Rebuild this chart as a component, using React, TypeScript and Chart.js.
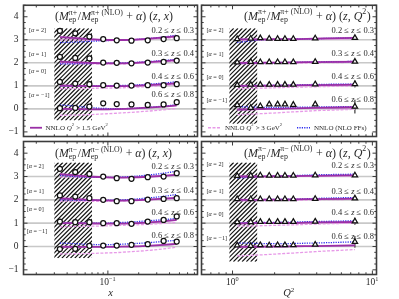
import React, { useEffect, useRef } from "react";
import { Chart, registerables } from "chart.js";

Chart.register(...registerables);

// ---------------- data ----------------
const xBins = [0.034, 0.048, 0.066, 0.09, 0.122, 0.17, 0.245, 0.35, 0.47];
const q2Bins = [1.08, 1.35, 1.58, 1.83, 2.1, 2.37, 2.72, 3.9, 7.5];
const alphas = [2, 1, 0, -1];
const zBinLabels = ["0.2 ≤ z ≤ 0.3", "0.3 ≤ z ≤ 0.4", "0.4 ≤ z ≤ 0.6", "0.6 ≤ z ≤ 0.8"];
const yTickValues = [-1, 0, 1, 2, 3, 4];
const referenceLevels = [0, 1, 2, 3];
const bandHalfWidth = [0.06, 0.05, 0.04, 0.035, 0.03, 0.03, 0.035, 0.04, 0.05];

// pi+ multiplicity ratio vs x (rows: alpha = 2, 1, 0, -1)
const piPlusX = [
  [1.39, 1.28, 1.14, 1.03, 0.98, 0.96, 0.98, 1.03, 1.07],
  [1.26, 1.21, 1.19, 1.01, 1.0, 0.98, 1.01, 1.04, 1.1],
  [1.17, 1.1, 1.07, 1.03, 1.01, 1.01, 1.03, 1.03, 1.07],
  [1.03, 1.04, 1.1, 1.24, 1.21, 1.19, 1.17, 1.19, 1.29],
];
const piPlusXErr = [
  [0.03, 0.03, 0.03, 0.02, 0.02, 0.02, 0.02, 0.03, 0.03],
  [0.03, 0.03, 0.03, 0.02, 0.02, 0.02, 0.02, 0.03, 0.03],
  [0.03, 0.03, 0.03, 0.02, 0.02, 0.02, 0.03, 0.03, 0.04],
  [0.04, 0.04, 0.04, 0.03, 0.03, 0.03, 0.04, 0.05, 0.06],
];
const piPlusXSolid = [
  [1.12, 1.07, 1.03, 1.0, 0.99, 1.0, 1.04, 1.1, 1.15],
  [1.05, 1.02, 1.0, 0.98, 0.98, 0.99, 1.03, 1.07, 1.12],
  [1.01, 1.0, 0.99, 0.99, 0.99, 1.0, 1.03, 1.07, 1.11],
  [1.0, 0.99, 0.98, 0.98, 0.99, 1.01, 1.05, 1.1, 1.15],
];
const piPlusXPink = [
  [1.0, 0.99, 0.98, 0.97, 0.97, 0.99, 1.02, 1.06, 1.1],
  [0.97, 0.96, 0.95, 0.95, 0.95, 0.97, 1.0, 1.04, 1.08],
  [0.88, 0.88, 0.89, 0.9, 0.91, 0.93, 0.97, 1.01, 1.05],
  [0.72, 0.73, 0.75, 0.78, 0.81, 0.85, 0.9, 0.96, 1.02],
];
const piPlusXBlue = [
  [0.88, 0.9, 0.93, 0.96, 0.98, 1.0, 1.05, 1.12, 1.2],
  [0.95, 0.96, 0.97, 0.98, 0.99, 1.01, 1.05, 1.1, 1.15],
  [1.0, 1.0, 1.0, 1.0, 1.01, 1.03, 1.07, 1.12, 1.18],
  [1.17, 1.12, 1.06, 1.02, 1.01, 1.02, 1.06, 1.12, 1.18],
];

// pi+ multiplicity ratio vs Q^2
const piPlusQ2 = [
  [1.03, 1.05, 1.07, 1.05, 1.04, 1.04, 1.04, 1.06, 1.08],
  [1.02, 1.04, 1.03, 1.03, 1.03, 1.03, 1.03, 1.04, 1.05],
  [1.04, 1.05, 1.05, 1.05, 1.05, 1.05, 1.05, 1.07, 1.08],
  [1.17, 1.05, 1.12, 1.2, 1.2, 1.2, 1.18, 1.2, 1.1],
];
const piPlusQ2Err = [
  [0.02, 0.02, 0.02, 0.02, 0.02, 0.02, 0.02, 0.03, 0.05],
  [0.02, 0.02, 0.02, 0.02, 0.02, 0.02, 0.02, 0.03, 0.06],
  [0.03, 0.03, 0.03, 0.03, 0.03, 0.03, 0.03, 0.04, 0.15],
  [0.04, 0.04, 0.04, 0.04, 0.04, 0.04, 0.04, 0.06, 0.3],
];
const piPlusQ2Solid = [
  [1.02, 1.02, 1.02, 1.02, 1.03, 1.03, 1.03, 1.05, 1.08],
  [1.0, 1.0, 1.0, 1.01, 1.01, 1.01, 1.02, 1.03, 1.05],
  [1.0, 1.0, 1.0, 1.01, 1.01, 1.01, 1.02, 1.03, 1.05],
  [0.97, 0.98, 0.99, 1.0, 1.0, 1.01, 1.02, 1.04, 1.07],
];
const piPlusQ2Pink = [
  [0.98, 0.99, 0.99, 1.0, 1.0, 1.0, 1.01, 1.02, 1.04],
  [0.96, 0.96, 0.97, 0.97, 0.98, 0.98, 0.98, 1.0, 1.02],
  [0.88, 0.89, 0.9, 0.91, 0.92, 0.93, 0.94, 0.96, 1.0],
  [0.75, 0.77, 0.79, 0.81, 0.83, 0.85, 0.87, 0.92, 0.98],
];
const piPlusQ2Blue = [
  [0.88, 0.95, 1.0, 1.01, 1.02, 1.02, 1.03, 1.05, 1.08],
  [0.98, 0.99, 1.0, 1.01, 1.01, 1.02, 1.02, 1.04, 1.06],
  [1.0, 1.01, 1.02, 1.02, 1.03, 1.03, 1.04, 1.06, 1.08],
  [1.1, 1.08, 1.07, 1.06, 1.06, 1.06, 1.07, 1.08, 1.1],
];

// pi- multiplicity ratio vs x
const piMinusX = [
  [1.33, 1.19, 1.11, 1.0, 0.93, 0.9, 0.97, 1.0, 1.14],
  [1.19, 1.14, 1.07, 1.0, 0.94, 0.94, 1.01, 1.04, 1.07],
  [1.07, 1.04, 1.04, 1.0, 1.0, 0.97, 1.07, 1.14, 1.29],
  [0.89, 0.9, 1.03, 1.04, 1.04, 1.07, 1.1, 1.24, 1.21],
];
const piMinusXErr = [
  [0.03, 0.03, 0.03, 0.02, 0.02, 0.02, 0.03, 0.03, 0.04],
  [0.03, 0.03, 0.03, 0.02, 0.02, 0.02, 0.03, 0.03, 0.04],
  [0.03, 0.03, 0.03, 0.03, 0.03, 0.03, 0.04, 0.05, 0.07],
  [0.04, 0.04, 0.04, 0.03, 0.03, 0.04, 0.05, 0.06, 0.08],
];
const piMinusXSolid = [
  [1.1, 1.05, 1.0, 0.97, 0.95, 0.96, 0.99, 1.03, 1.07],
  [1.06, 1.03, 1.0, 0.98, 0.97, 0.98, 1.01, 1.05, 1.09],
  [1.0, 1.0, 0.99, 0.98, 0.98, 0.99, 1.03, 1.08, 1.14],
  [0.98, 0.98, 0.98, 0.98, 0.99, 1.0, 1.03, 1.07, 1.11],
];
const piMinusXPink = [
  [0.98, 0.97, 0.97, 0.96, 0.96, 0.97, 1.0, 1.03, 1.06],
  [0.95, 0.94, 0.94, 0.94, 0.95, 0.96, 0.99, 1.02, 1.05],
  [0.85, 0.86, 0.87, 0.88, 0.9, 0.92, 0.95, 0.99, 1.03],
  [0.68, 0.69, 0.7, 0.72, 0.74, 0.78, 0.83, 0.9, 0.97],
];
const piMinusXBlue = [
  [1.05, 1.0, 0.97, 0.96, 0.97, 1.0, 1.06, 1.14, 1.23],
  [1.0, 0.99, 0.98, 0.98, 0.99, 1.02, 1.08, 1.15, 1.23],
  [1.0, 1.0, 1.0, 1.0, 1.02, 1.05, 1.1, 1.15, 1.2],
  [1.15, 1.12, 1.09, 1.08, 1.09, 1.12, 1.16, 1.22, 1.27],
];

// pi- multiplicity ratio vs Q^2
const piMinusQ2 = [
  [1.03, 1.04, 1.05, 1.04, 1.04, 1.04, 1.04, 1.05, 1.05],
  [1.03, 1.03, 1.03, 1.03, 1.03, 1.03, 1.03, 1.04, 1.06],
  [1.05, 1.05, 1.06, 1.06, 1.06, 1.06, 1.06, 1.07, 1.08],
  [1.05, 1.03, 1.06, 1.05, 1.06, 1.06, 1.06, 1.08, 1.2],
];
const piMinusQ2Err = [
  [0.02, 0.02, 0.02, 0.02, 0.02, 0.02, 0.02, 0.03, 0.05],
  [0.02, 0.02, 0.02, 0.02, 0.02, 0.02, 0.02, 0.03, 0.06],
  [0.03, 0.03, 0.03, 0.03, 0.03, 0.03, 0.03, 0.04, 0.15],
  [0.04, 0.04, 0.04, 0.04, 0.04, 0.04, 0.04, 0.06, 0.25],
];
const piMinusQ2Solid = [
  [1.0, 1.0, 1.0, 1.01, 1.01, 1.01, 1.02, 1.03, 1.05],
  [1.0, 1.0, 1.0, 1.01, 1.01, 1.01, 1.02, 1.03, 1.05],
  [0.99, 1.0, 1.0, 1.0, 1.01, 1.01, 1.01, 1.03, 1.05],
  [0.98, 0.99, 0.99, 1.0, 1.0, 1.0, 1.01, 1.02, 1.05],
];
const piMinusQ2Pink = [
  [0.98, 0.98, 0.99, 0.99, 0.99, 1.0, 1.0, 1.01, 1.03],
  [0.96, 0.96, 0.97, 0.97, 0.97, 0.98, 0.98, 1.0, 1.02],
  [0.87, 0.88, 0.89, 0.9, 0.91, 0.92, 0.93, 0.96, 1.0],
  [0.6, 0.62, 0.64, 0.66, 0.68, 0.7, 0.72, 0.78, 0.87],
];
const piMinusQ2Blue = [
  [0.93, 0.97, 1.0, 1.01, 1.02, 1.03, 1.04, 1.07, 1.1],
  [1.0, 1.01, 1.01, 1.02, 1.02, 1.03, 1.03, 1.06, 1.1],
  [1.01, 1.02, 1.03, 1.03, 1.04, 1.04, 1.05, 1.07, 1.1],
  [1.15, 1.14, 1.13, 1.12, 1.12, 1.12, 1.13, 1.15, 1.2],
];

// ---------------- styling / layout ----------------
const FAMILY = '"Liberation Serif", "DejaVu Serif", serif';
const W = 399;
const H = 299;
const SOLID = "#9a2fa6";
const BAND = "rgba(205,130,215,0.45)";
const PINK = "#e79ae8";
const BLUE = "#2b2bee";
const FRAME = "#3c3c3c";
const TEXT = "#2a2a2a";

type Part = { t?: string; it?: boolean; sup?: string; sub?: string };

function drawRich(
  ctx: CanvasRenderingContext2D,
  x: number,
  y: number,
  parts: Part[],
  size: number,
  draw = true
): number {
  let cx = x;
  const small = size * 0.66;
  for (const p of parts) {
    if (p.t !== undefined) {
      ctx.font = `${p.it ? "italic " : ""}${size}px ${FAMILY}`;
      if (draw) ctx.fillText(p.t, cx, y);
      cx += ctx.measureText(p.t).width;
    } else {
      let w = 0;
      ctx.font = `${small}px ${FAMILY}`;
      if (p.sup !== undefined) {
        if (draw) ctx.fillText(p.sup, cx, y - size * 0.42);
        w = Math.max(w, ctx.measureText(p.sup).width);
      }
      if (p.sub !== undefined) {
        if (draw) ctx.fillText(p.sub, cx, y + size * 0.24);
        w = Math.max(w, ctx.measureText(p.sub).width);
      }
      cx += w + size * 0.05;
    }
  }
  return cx - x;
}

const titleParts = (sign: string, v: "x" | "Q2"): Part[] => [
  { t: "(" },
  { t: "M", it: true },
  { sup: "π" + sign, sub: "ep" },
  { t: "/" },
  { t: "M", it: true },
  { sup: "π" + sign + " (NLO)", sub: "ep" },
  { t: " + " },
  { t: "α", it: true },
  { t: ") (" },
  { t: "z", it: true },
  { t: ", " },
  ...(v === "x" ? [{ t: "x", it: true }] : [{ t: "Q", it: true }, { sup: "2" }]),
  { t: ")" },
];

type PanelSpec = {
  left: number;
  right: number;
  top: number;
  bottom: number;
  xs: number[];
  xMin: number;
  xMax: number;
  majorX: number[];
  minorX: number[];
  values: number[][];
  errors: number[][];
  solid: number[][];
  pink: number[][];
  blue: number[][];
  marker: "circle" | "triangle";
  hatchX: [number, number];
  hatchY: [number, number];
  sign: string;
  variable: "x" | "Q2";
  titleX: number;
  titleW: number;
  titleY: number;
  yLabels: boolean;
  xLabels: boolean;
  legend: "solid" | "pinkblue" | null;
  binY: number[];
  binRight: number;
  alphaY: number[];
  alphaLeft: number;
};

const minorTicksX = [0.02, 0.03, 0.04, 0.05, 0.06, 0.07, 0.08, 0.09, 0.2, 0.3, 0.4, 0.5, 0.6, 0.7];
const minorTicksQ2 = [0.7, 0.8, 0.9, 2, 3, 4, 5, 6, 7, 8, 9];

const TOP = { top: 3.5, bottom: 136.5 };
const BOT = { top: 141.5, bottom: 274.5 };
const LEFT = { left: 23.5, right: 197.5 };
const RIGHT = { left: 201.5, right: 376.5 };

const panels: PanelSpec[] = [
  {
    ...LEFT, ...TOP,
    xs: xBins, xMin: 0.015, xMax: 0.75, majorX: [0.1], minorX: minorTicksX,
    values: piPlusX, errors: piPlusXErr, solid: piPlusXSolid, pink: piPlusXPink, blue: piPlusXBlue,
    marker: "circle", hatchX: [0.03, 0.07], hatchY: [-0.5, 3.5],
    sign: "+", variable: "x", titleX: 55, titleW: 118, titleY: 19.5,
    yLabels: true, xLabels: false, legend: "solid",
    binY: [3.4, 2.38, 1.38, 0.6], binRight: 194, alphaY: [3.4, 2.38, 1.61, 0.57], alphaLeft: 29,
  },
  {
    ...RIGHT, ...TOP,
    xs: q2Bins, xMin: 0.62, xMax: 10.7, majorX: [1, 10], minorX: minorTicksQ2,
    values: piPlusQ2, errors: piPlusQ2Err, solid: piPlusQ2Solid, pink: piPlusQ2Pink, blue: piPlusQ2Blue,
    marker: "triangle", hatchX: [0.95, 1.5], hatchY: [-0.65, 3.5],
    sign: "+", variable: "Q2", titleX: 244, titleW: 130, titleY: 19.5,
    yLabels: false, xLabels: false, legend: "pinkblue",
    binY: [3.4, 2.38, 1.38, 0.39], binRight: 374, alphaY: [3.4, 2.38, 1.35, 0.39], alphaLeft: 206.5,
  },
  {
    ...LEFT, ...BOT,
    xs: xBins, xMin: 0.015, xMax: 0.75, majorX: [0.1], minorX: minorTicksX,
    values: piMinusX, errors: piMinusXErr, solid: piMinusXSolid, pink: piMinusXPink, blue: piMinusXBlue,
    marker: "circle", hatchX: [0.03, 0.07], hatchY: [-0.5, 3.6],
    sign: "−", variable: "x", titleX: 55, titleW: 117, titleY: 156.5,
    yLabels: true, xLabels: true, legend: null,
    binY: [3.43, 2.4, 1.46, 0.46], binRight: 194, alphaY: [3.43, 2.36, 1.57, 0.64], alphaLeft: 26.7,
  },
  {
    ...RIGHT, ...BOT,
    xs: q2Bins, xMin: 0.62, xMax: 10.7, majorX: [1, 10], minorX: minorTicksQ2,
    values: piMinusQ2, errors: piMinusQ2Err, solid: piMinusQ2Solid, pink: piMinusQ2Pink, blue: piMinusQ2Blue,
    marker: "triangle", hatchX: [0.95, 1.5], hatchY: [-0.65, 3.6],
    sign: "−", variable: "Q2", titleX: 244, titleW: 130, titleY: 156.5,
    yLabels: false, xLabels: true, legend: null,
    binY: [3.46, 2.36, 1.43, 0.4], binRight: 374, alphaY: [3.5, 2.36, 1.36, 0.36], alphaLeft: 206.5,
  },
];

function makePlugin(p: PanelSpec, idx: number) {
  return {
    id: "panelDeco" + idx,
    beforeDatasetsDraw(chart: any) {
      const { ctx, chartArea: a, scales } = chart;
      const xs = scales.x;
      const ys = scales.y;
      ctx.save();
      ctx.beginPath();
      ctx.rect(a.left, a.top, a.right - a.left, a.bottom - a.top);
      ctx.clip();
      // reference lines
      ctx.strokeStyle = "#c8c8c8";
      ctx.lineWidth = 1.6;
      for (const v of referenceLevels) {
        const py = ys.getPixelForValue(v);
        ctx.beginPath();
        ctx.moveTo(a.left, py);
        ctx.lineTo(a.right, py);
        ctx.stroke();
      }
      // hatched region
      const hx0 = xs.getPixelForValue(p.hatchX[0]);
      const hx1 = xs.getPixelForValue(p.hatchX[1]);
      const hy0 = ys.getPixelForValue(p.hatchY[1]);
      const hy1 = ys.getPixelForValue(p.hatchY[0]);
      ctx.save();
      ctx.beginPath();
      ctx.rect(hx0, hy0, hx1 - hx0, hy1 - hy0);
      ctx.clip();
      ctx.strokeStyle = "#111";
      ctx.lineWidth = 1.2;
      const hh = hy1 - hy0;
      for (let c = hx0 - hh; c < hx1 + 2; c += 4.3) {
        ctx.beginPath();
        ctx.moveTo(c, hy1);
        ctx.lineTo(c + hh, hy0);
        ctx.stroke();
      }
      ctx.restore();
      // error bars
      ctx.strokeStyle = "#111";
      ctx.lineWidth = 1;
      p.values.forEach((row, r) => {
        row.forEach((v, j) => {
          const e = p.errors[r][j];
          const px = xs.getPixelForValue(p.xs[j]);
          const y0 = ys.getPixelForValue(v + alphas[r] - e);
          const y1 = ys.getPixelForValue(v + alphas[r] + e);
          ctx.beginPath();
          ctx.moveTo(px, y0);
          ctx.lineTo(px, y1);
          ctx.stroke();
        });
      });
      ctx.restore();
    },
    afterDraw(chart: any) {
      const { ctx, chartArea: a, scales } = chart;
      const xs = scales.x;
      const ys = scales.y;
      ctx.save();
      ctx.fillStyle = TEXT;
      ctx.textBaseline = "alphabetic";
      ctx.textAlign = "left";
      // title, sized to the reference width
      const tp = titleParts(p.sign, p.variable);
      const tw = drawRich(ctx, 0, 0, tp, 12, false);
      const tsize = Math.min(12, (12 * p.titleW) / tw);
      drawRich(ctx, p.titleX, p.titleY, tp, tsize);
      // bin labels
      ctx.textBaseline = "middle";
      zBinLabels.forEach((lab, r) => {
        const parts: Part[] = [];
        const bits = lab.split("z");
        parts.push({ t: bits[0] }, { t: "z", it: true }, { t: bits[1] });
        const w = drawRich(ctx, 0, 0, parts, 8.5, false);
        drawRich(ctx, p.binRight - w, ys.getPixelForValue(p.binY[r]), parts, 8.5);
      });
      // alpha labels
      alphas.forEach((al, r) => {
        const parts: Part[] = [
          { t: "[" },
          { t: "α", it: true },
          { t: " = " + (al < 0 ? "−" + Math.abs(al) : String(al)) + "]" },
        ];
        drawRich(ctx, p.alphaLeft, ys.getPixelForValue(p.alphaY[r]), parts, 6.2);
      });
      // legends
      const ly = ys.getPixelForValue(-0.82);
      ctx.lineCap = "butt";
      if (p.legend === "solid") {
        ctx.strokeStyle = SOLID;
        ctx.lineWidth = 1.8;
        ctx.beginPath();
        ctx.moveTo(30, ly);
        ctx.lineTo(42, ly);
        ctx.stroke();
        drawRich(ctx, 45.5, ly, [{ t: "NNLO " }, { t: "Q", it: true }, { sup: "2" }, { t: " > 1.5 GeV" }, { sup: "2" }], 7);
      } else if (p.legend === "pinkblue") {
        ctx.strokeStyle = PINK;
        ctx.lineWidth = 1.3;
        ctx.setLineDash([3, 1.5]);
        ctx.beginPath();
        ctx.moveTo(208, ly);
        ctx.lineTo(221, ly);
        ctx.stroke();
        ctx.strokeStyle = BLUE;
        ctx.setLineDash([1.2, 1.2]);
        ctx.beginPath();
        ctx.moveTo(297, ly);
        ctx.lineTo(310, ly);
        ctx.stroke();
        ctx.setLineDash([]);
        drawRich(ctx, 225, ly, [{ t: "NNLO " }, { t: "Q", it: true }, { sup: "2" }, { t: " > 3 GeV" }, { sup: "2" }], 7);
        drawRich(ctx, 314, ly, [{ t: "NNLO (NLO FFs)" }], 7);
      }
      // frame
      ctx.strokeStyle = FRAME;
      ctx.lineWidth = 1.6;
      ctx.strokeRect(a.left, a.top, a.right - a.left, a.bottom - a.top);
      // y ticks
      ctx.lineWidth = 1;
      for (let v = -1.0; v <= 4.5 + 1e-6; v += 0.25) {
        const py = ys.getPixelForValue(v);
        const major = Math.abs(v - Math.round(v)) < 1e-6;
        const len = major ? 4 : 2.2;
        ctx.beginPath();
        ctx.moveTo(a.left, py);
        ctx.lineTo(a.left + len, py);
        ctx.moveTo(a.right, py);
        ctx.lineTo(a.right - len, py);
        ctx.stroke();
      }
      // x ticks
      const xt = (v: number, len: number) => {
        const px = xs.getPixelForValue(v);
        ctx.beginPath();
        ctx.moveTo(px, a.bottom);
        ctx.lineTo(px, a.bottom - len);
        ctx.moveTo(px, a.top);
        ctx.lineTo(px, a.top + len);
        ctx.stroke();
      };
      p.majorX.forEach((v) => xt(v, 4));
      p.minorX.forEach((v) => xt(v, 2.2));
      // tick labels
      ctx.fillStyle = TEXT;
      if (p.yLabels) {
        ctx.textBaseline = "middle";
        yTickValues.forEach((v) => {
          const lab = v < 0 ? "−" + Math.abs(v) : String(v);
          ctx.font = `9.5px ${FAMILY}`;
          const w = ctx.measureText(lab).width;
          ctx.fillText(lab, a.left - 5 - w, ys.getPixelForValue(v));
        });
      }
      if (p.xLabels) {
        ctx.textBaseline = "alphabetic";
        p.majorX.forEach((v) => {
          const e = Math.round(Math.log10(v));
          const parts: Part[] = [{ t: "10" }, { sup: e < 0 ? "−" + Math.abs(e) : String(e) }];
          const w = drawRich(ctx, 0, 0, parts, 9.5, false);
          drawRich(ctx, xs.getPixelForValue(v) - w / 2, 285, parts, 9.5);
        });
        const tparts: Part[] =
          p.variable === "x" ? [{ t: "x", it: true }] : [{ t: "Q", it: true }, { sup: "2" }];
        const aw = drawRich(ctx, 0, 0, tparts, 10.5, false);
        drawRich(ctx, (a.left + a.right) / 2 - aw / 2, 296, tparts, 10.5);
      }
      ctx.restore();
    },
  };
}

function buildConfig(p: PanelSpec, idx: number): any {
  const datasets: any[] = [];
  const pts = (vals: number[], al: number, add?: number[]) =>
    p.xs.map((x, j) => ({ x, y: vals[j] + al + (add ? add[j] : 0) }));
  const neg = bandHalfWidth.map((v) => -v);
  alphas.forEach((al, r) => {
    datasets.push({
      data: pts(p.solid[r], al, bandHalfWidth),
      borderWidth: 0,
      pointRadius: 0,
      fill: false,
      cubicInterpolationMode: "monotone",
      order: 5,
    });
    datasets.push({
      data: pts(p.solid[r], al, neg),
      borderWidth: 0,
      pointRadius: 0,
      fill: "-1",
      backgroundColor: BAND,
      cubicInterpolationMode: "monotone",
      order: 5,
    });
    datasets.push({
      data: pts(p.pink[r], al),
      borderColor: PINK,
      borderWidth: 1.3,
      borderDash: [3, 1.5],
      pointRadius: 0,
      fill: false,
      cubicInterpolationMode: "monotone",
      order: 4,
    });
    datasets.push({
      data: pts(p.blue[r], al),
      borderColor: BLUE,
      borderWidth: 1.3,
      borderDash: [1.2, 1.2],
      pointRadius: 0,
      fill: false,
      cubicInterpolationMode: "monotone",
      order: 3,
    });
    datasets.push({
      data: pts(p.solid[r], al),
      borderColor: SOLID,
      borderWidth: 1.8,
      pointRadius: 0,
      fill: false,
      cubicInterpolationMode: "monotone",
      order: 2,
    });
    datasets.push({
      data: pts(p.values[r], al),
      showLine: false,
      pointStyle: p.marker,
      pointRadius: p.marker === "circle" ? 2.5 : 3.1,
      pointBorderWidth: 1.25,
      pointBorderColor: "#111",
      pointBackgroundColor: "#fff",
      order: 0,
    });
  });
  return {
    type: "line",
    data: { datasets },
    options: {
      responsive: false,
      animation: false,
      devicePixelRatio: 1,
      events: [],
      layout: {
        padding: { left: p.left, top: p.top, right: W - p.right, bottom: H - p.bottom },
      },
      plugins: { legend: { display: false }, tooltip: { enabled: false } },
      scales: {
        x: { type: "logarithmic", min: p.xMin, max: p.xMax, display: false },
        y: { type: "linear", min: -1.2, max: 4.5, display: false },
      },
    },
    plugins: [makePlugin(p, idx)],
  };
}

export default function App() {
  const canvases = useRef<(HTMLCanvasElement | null)[]>([]);
  useEffect(() => {
    const charts = panels.map((p, i) => new Chart(canvases.current[i] as HTMLCanvasElement, buildConfig(p, i)));
    return () => charts.forEach((c) => c.destroy());
  }, []);
  return (
    <div style={{ position: "absolute", left: 0, top: 0, width: W, height: H, background: "#fff" }}>
      {panels.map((_, i) => (
        <canvas
          key={i}
          ref={(el) => {
            canvases.current[i] = el;
          }}
          width={W}
          height={H}
          style={{ position: "absolute", left: 0, top: 0, width: W, height: H }}
        />
      ))}
    </div>
  );
}
